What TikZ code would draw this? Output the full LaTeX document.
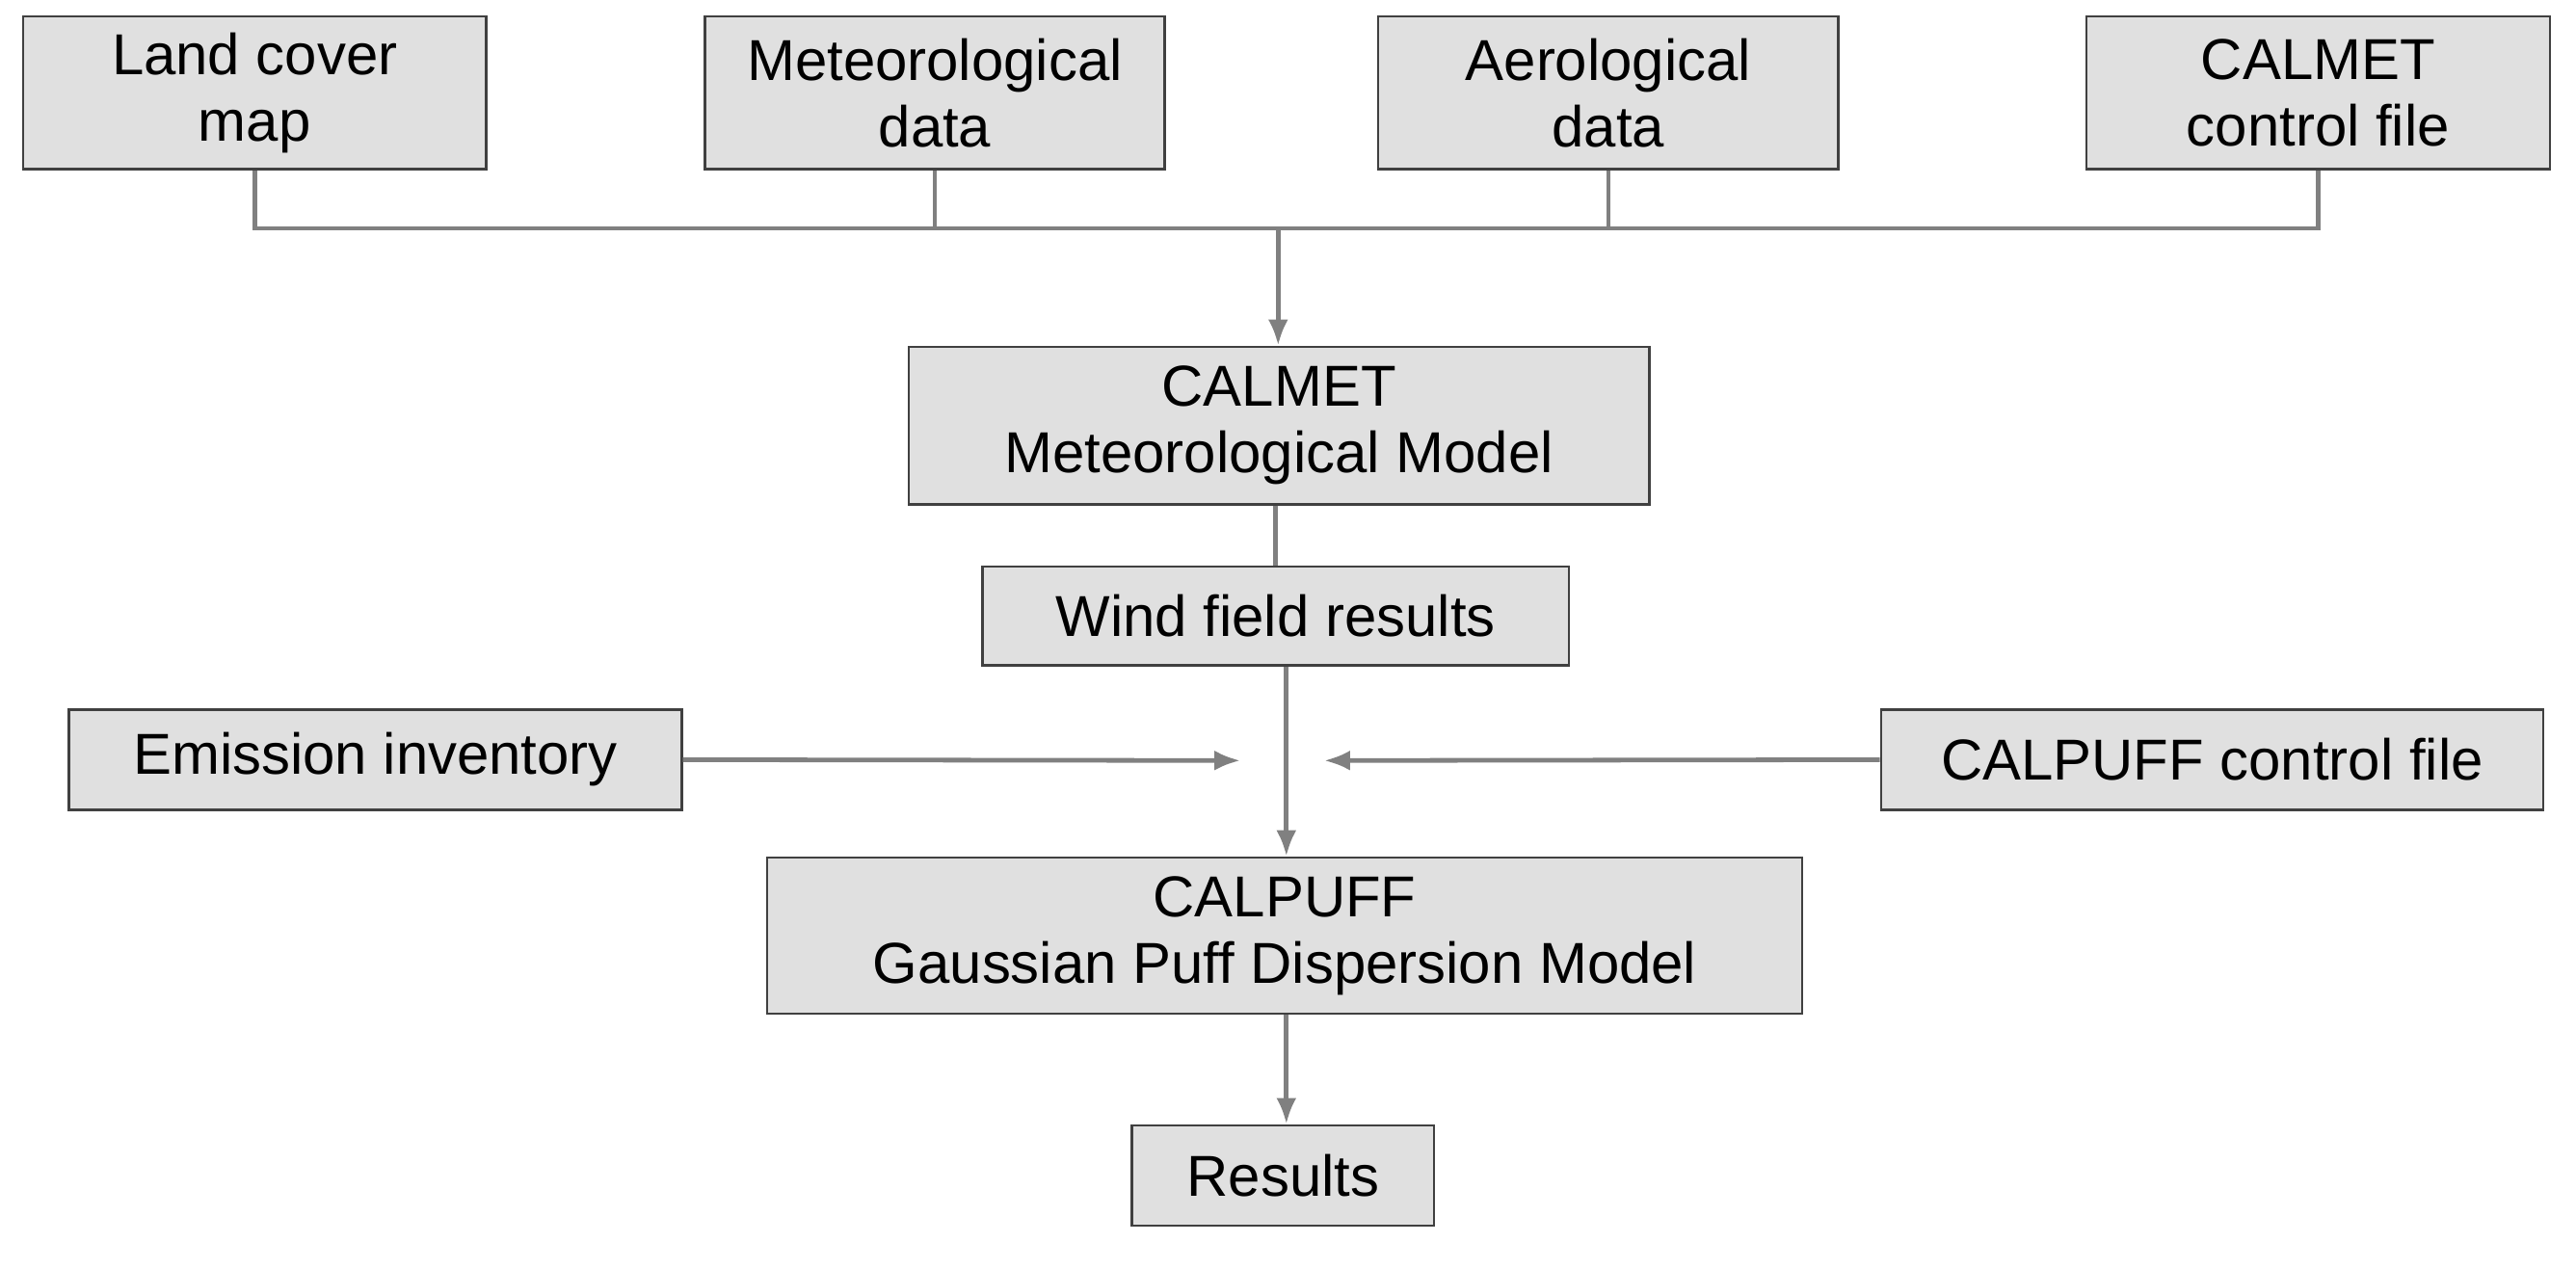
\documentclass[tikz,border=0pt]{standalone}
\usepackage{fontspec}
\setmainfont{Liberation Sans}
\usetikzlibrary{arrows.meta}
\definecolor{boxfill}{HTML}{E0E0E0}
\definecolor{boxdraw}{HTML}{404040}
\definecolor{lin}{HTML}{808080}
\begin{document}
\begin{tikzpicture}[x=0.02cm,y=-0.02cm,
  box/.style={draw=boxdraw,fill=boxfill,line width=0.8pt,inner sep=0pt,font=\fontsize{20}{23}\selectfont,align=center},
  con/.style={draw=lin,line width=1.6pt},
  arr/.style={con,-{Latex[length=9pt,width=7pt]}}]
\useasboundingbox (0,0) rectangle (1568,772);
\newcommand{\bx}[6]{\node[box,minimum width=#4*0.02cm-0pt,minimum height=#5*0.02cm] (#1) at (#2,#3) {#6};}
\bx{land}{155}{56.5}{282}{93}{Land cover\\map}
\bx{met}{569}{56.5}{280}{93}{Meteorological\\data}
\bx{aer}{979}{56.5}{280}{93}{Aerological\\data}
\bx{ctl}{1411}{56.5}{282}{93}{CALMET\\control file}
\bx{calmet}{778.5}{259}{451}{96}{CALMET\\Meteorological Model}
\bx{wind}{776.5}{375}{357}{60}{Wind field results}
\bx{emis}{228.5}{462.5}{373}{61}{Emission inventory}
\bx{pctl}{1346.5}{462.5}{403}{61}{CALPUFF control file}
\bx{calpuff}{782}{569.5}{630}{95}{CALPUFF\\Gaussian Puff Dispersion Model}
\bx{res}{781}{715.5}{184}{61}{Results}
\coordinate (bus) at (778,139);
\coordinate (mid) at (783,463);
\draw[con] (land.south) |- (bus) -| (ctl.south);
\draw[con] (met.south) -- (met.south |- bus);
\draw[con] (aer.south) -- (aer.south |- bus);
\draw[arr] (bus) -- (calmet.north -| bus);
\draw[con] (calmet.south -| wind.north) -- (wind.north);
\draw[arr] (wind.south -| 783,0) -- (calpuff.north -| 783,0);
\draw[arr] (emis.east) -- ([xshift=-28*0.02cm]mid);
\draw[arr] (pctl.west) -- ([xshift=23*0.02cm]mid);
\draw[arr] (calpuff.south -| 783,0) -- (res.north -| 783,0);
\end{tikzpicture}
\end{document}
